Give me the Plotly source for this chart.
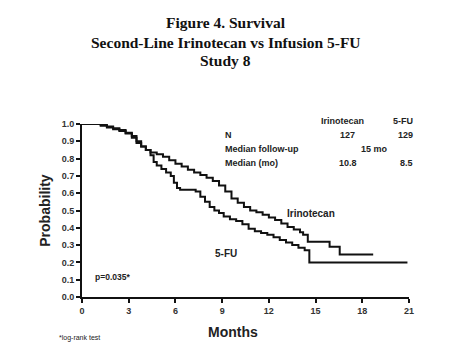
import plotly.graph_objects as go

# Kaplan-Meier survival, Irinotecan
iri_months = [0, 1.2, 1.6, 2.0, 2.4, 2.8, 3.2, 3.5, 3.8, 4.1, 4.4, 4.8, 5.2, 5.6, 6.0, 6.4,
              6.8, 7.2, 7.6, 8.0, 8.4, 8.8, 9.2, 9.6, 10.0, 10.4, 10.8, 11.2, 11.6, 12.0,
              12.4, 12.8, 13.2, 13.6, 14.0, 14.2, 14.5, 15.9, 16.55, 18.7]
iri_prob = [1.0, 0.99, 0.98, 0.97, 0.96, 0.945, 0.92, 0.89, 0.87, 0.85, 0.835, 0.825, 0.81,
            0.79, 0.77, 0.755, 0.735, 0.72, 0.705, 0.69, 0.67, 0.645, 0.61, 0.57, 0.545,
            0.52, 0.50, 0.49, 0.475, 0.46, 0.445, 0.425, 0.405, 0.39, 0.375, 0.36, 0.32,
            0.29, 0.245, 0.245]

# Kaplan-Meier survival, 5-FU
fu_months = [0, 1.2, 1.6, 2.0, 2.4, 2.8, 3.2, 3.5, 3.8, 4.1, 4.4, 4.6, 4.8, 5.1, 5.4, 5.7,
             5.9, 6.1, 6.3, 7.3, 7.6, 7.9, 8.2, 8.5, 8.8, 9.1, 9.5, 9.9, 10.3, 10.7, 11.1,
             11.5, 11.9, 12.3, 12.7, 13.1, 13.5, 13.9, 14.3, 14.6, 20.9]
fu_prob = [1.0, 0.995, 0.985, 0.975, 0.965, 0.95, 0.93, 0.90, 0.87, 0.85, 0.82, 0.78, 0.76,
           0.74, 0.72, 0.70, 0.66, 0.63, 0.62, 0.61, 0.58, 0.55, 0.52, 0.50, 0.485, 0.465,
           0.45, 0.44, 0.42, 0.395, 0.38, 0.37, 0.36, 0.345, 0.33, 0.315, 0.30, 0.285,
           0.27, 0.20, 0.20]

x_ticks = [0, 3, 6, 9, 12, 15, 18, 21]
y_ticks = [0.0, 0.1, 0.2, 0.3, 0.4, 0.5, 0.6, 0.7, 0.8, 0.9, 1.0]

title_lines = ["Figure 4. Survival", "Second-Line Irinotecan vs Infusion 5-FU", "Study 8"]
table_header = ["Irinotecan", "5-FU"]
table_rows = [("N", "127", "129"), ("Median follow-up", "15 mo", None), ("Median (mo)", "10.8", "8.5")]

W, H = 453, 356
L, R, T, B = 81.7, 409.3, 124.3, 297.0

def px(xp):
    return (xp - L) / (R - L)

def py(yp):
    return (B - yp) / (B - T)

fig = go.Figure()
line_style = dict(color="#111111", width=2, shape="hv")
fig.add_trace(go.Scatter(x=iri_months, y=iri_prob, mode="lines", line=line_style,
                         name="Irinotecan", hoverinfo="skip"))
fig.add_trace(go.Scatter(x=fu_months, y=fu_prob, mode="lines", line=line_style,
                         name="5-FU", hoverinfo="skip"))

ann = []
serif = dict(family="Liberation Serif, Times New Roman, serif", size=15.5, color="#111111")
for txt, yy in zip(title_lines, [23, 43, 61]):
    ann.append(dict(text="<b>%s</b>" % txt, x=px(225.5), y=py(yy), xref="paper", yref="paper",
                    xanchor="center", yanchor="middle", showarrow=False, font=serif))

sans = dict(family="Liberation Sans, Arial, sans-serif", size=9, color="#222222")
def add(txt, x, y, anchor="left", font=sans):
    ann.append(dict(text=txt, x=px(x), y=py(y), xref="paper", yref="paper", xanchor=anchor,
                    yanchor="middle", showarrow=False, font=font))

add("<b>%s</b>" % table_header[0], 343, 121.7, "center")
add("<b>%s</b>" % table_header[1], 415, 121.7, "right")
row_y = [135, 149.5, 163.3]
for (lab, a, b), yy in zip(table_rows, row_y):
    add("<b>%s</b>" % lab, 223, yy, "left")
    if b is None:
        add("<b>%s</b>" % a, 375, yy, "center")
    else:
        add("<b>%s</b>" % a, 348, yy, "center")
        add("<b>%s</b>" % b, 415, yy, "right")

big = dict(family="Liberation Sans, Arial, sans-serif", size=10, color="#222222")
add("<b>Irinotecan</b>", 311.5, 213.3, "center", big)
add("<b>5-FU</b>", 225.5, 253.3, "center", big)
add("<b>p=0.035*</b>", 93, 276.7, "left", dict(family="Liberation Sans, Arial, sans-serif", size=8.5, color="#222222"))
add("*log-rank test", 57, 337.7, "left", dict(family="Liberation Sans, Arial, sans-serif", size=7, color="#222222"))

axt = dict(family="Liberation Sans, Arial, sans-serif", size=14, color="#222222")
add("<b>Months</b>", 232.5, 331.5, "center", axt)
ann.append(dict(text="<b>Probability</b>", x=px(45), y=py(210.5), xref="paper", yref="paper",
                xanchor="center", yanchor="middle", showarrow=False, textangle=-90, font=axt))

fig.update_layout(
    width=W, height=H,
    margin=dict(l=L, r=W - R, t=T, b=H - B, pad=0),
    paper_bgcolor="white", plot_bgcolor="white",
    showlegend=False,
    annotations=ann,
)
tickfont = dict(family="Liberation Sans, Arial, sans-serif", size=9, color="#333333")
fig.update_xaxes(range=[0, 21], tickvals=x_ticks, ticktext=["<b>%d</b>" % v for v in x_ticks],
                 showgrid=False, zeroline=False, showline=True, linecolor="#111111", linewidth=2,
                 ticks="outside", ticklen=4, tickwidth=1.5, tickcolor="#111111",
                 tickfont=tickfont, fixedrange=True, automargin=False)
fig.update_yaxes(range=[0, 1], tickvals=y_ticks, ticktext=["<b>%.1f</b>" % v for v in y_ticks],
                 showgrid=False, zeroline=False, showline=True, linecolor="#111111", linewidth=2,
                 ticks="outside", ticklen=4, tickwidth=1.5, tickcolor="#111111",
                 tickfont=tickfont, fixedrange=True, automargin=False)
fig.update_traces(cliponaxis=False)

fig.write_html("out.html", config={"displayModeBar": False},
               post_script="document.body.style.margin='0';document.body.style.overflow='hidden';")
